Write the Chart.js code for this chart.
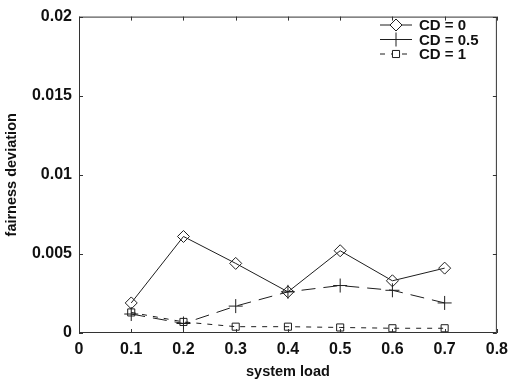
<!DOCTYPE html>
<html>
<head>
<meta charset="utf-8">
<script src="https://cdn.jsdelivr.net/npm/chart.js@4"></script>
<style>
  html, body { margin: 0; padding: 0; background: #fff; }
  #wrap { width: 515px; height: 381px; }
</style>
</head>
<body>
<div id="wrap"><canvas id="myChart" width="515" height="381"></canvas></div>
<script>
// system load on x, fairness deviation on y
var loads = [0.1, 0.2, 0.3, 0.4, 0.5, 0.6, 0.7];
var cd0 = [0.0019, 0.0061, 0.0044, 0.0026, 0.0052, 0.0033, 0.0041];
var cd05 = [0.0012, 0.0006, 0.0017, 0.0026, 0.0030, 0.0027, 0.0019];
var cd1 = [0.0013, 0.0007, 0.0004, 0.0004, 0.00035, 0.0003, 0.0003];
var seriesNames = ["CD = 0", "CD = 0.5", "CD = 1"];

var FONT = "'Liberation Sans', Arial, Helvetica, sans-serif";
var INK = '#1e1e1e';

function pts(ys) {
    return loads.map(function (x, i) { return { x: x, y: ys[i] }; });
}

// box + inward ticks (matlab style) and a legend with line samples
var frame = {
    id: 'frame',
    afterDraw: function (chart) {
        var ctx = chart.ctx, a = chart.chartArea;
        var xs = chart.scales.x, ys = chart.scales.y;
        ctx.save();
        ctx.strokeStyle = '#333';
        ctx.lineWidth = 1;
        ctx.setLineDash([]);
        ctx.strokeRect(a.left + 0.5, a.top + 0.5, a.right - a.left - 1, a.bottom - a.top - 1);
        ctx.beginPath();
        xs.ticks.forEach(function (t) {
            var px = Math.round(xs.getPixelForValue(t.value)) + 0.5;
            ctx.moveTo(px, a.bottom); ctx.lineTo(px, a.bottom - 4);
            ctx.moveTo(px, a.top); ctx.lineTo(px, a.top + 4);
        });
        ys.ticks.forEach(function (t) {
            var py = Math.round(ys.getPixelForValue(t.value)) + 0.5;
            ctx.moveTo(a.left, py); ctx.lineTo(a.left + 4, py);
            ctx.moveTo(a.right, py); ctx.lineTo(a.right - 4, py);
        });
        ctx.stroke();

        // legend
        var lx0 = 380, lx1 = 412, tx = 419, y0 = 25, dy = 14.5;
        chart.data.datasets.forEach(function (ds, i) {
            var y = y0 + i * dy;
            ctx.strokeStyle = INK;
            ctx.lineWidth = 1;
            ctx.setLineDash(ds.borderDash || []);
            ctx.beginPath();
            ctx.moveTo(lx0, y); ctx.lineTo(lx1, y);
            ctx.stroke();
            ctx.setLineDash([]);
            ctx.fillStyle = '#fff';
            Chart.helpers.drawPoint(ctx, {
                pointStyle: ds.pointStyle, radius: ds.pointRadius,
                borderWidth: 1, rotation: 0
            }, (lx0 + lx1) / 2, y);
            ctx.fillStyle = '#111';
            ctx.font = 'bold 15px ' + FONT;
            ctx.textBaseline = 'middle';
            ctx.textAlign = 'left';
            ctx.fillText(seriesNames[i], tx, y + 1);
        });
        ctx.restore();
    }
};

var ctx = document.getElementById('myChart');
var chart = new Chart(ctx, {
    type: 'line',
    data: {
        datasets: [{
            label: seriesNames[0],
            data: pts(cd0),
            borderColor: INK,
            backgroundColor: 'rgba(255,255,255,0)',
            borderWidth: 1,
            pointStyle: 'rectRot',
            pointRadius: 6,
            pointBorderColor: INK,
            pointBackgroundColor: 'rgba(255,255,255,0)',
            pointBorderWidth: 1
        }, {
            label: seriesNames[1],
            data: pts(cd05),
            borderColor: INK,
            borderWidth: 1,
            borderDash: [14, 8],
            pointStyle: 'cross',
            pointRadius: 7,
            pointBorderColor: INK,
            pointBorderWidth: 1
        }, {
            label: seriesNames[2],
            data: pts(cd1),
            borderColor: INK,
            borderWidth: 1,
            borderDash: [5, 6],
            pointStyle: 'rect',
            pointRadius: 5,
            pointBorderColor: INK,
            pointBackgroundColor: 'rgba(255,255,255,0)',
            pointBorderWidth: 1
        }]
    },
    options: {
        responsive: false,
        animation: false,
        events: [],
        layout: { padding: { top: 14, right: 13, left: 0, bottom: 0 } },
        plugins: { legend: { display: false }, tooltip: { enabled: false } },
        scales: {
            x: {
                type: 'linear', min: 0, max: 0.8,
                afterFit: function (s) { s.height = 48; },
                grid: { display: false, drawTicks: false },
                border: { display: false },
                ticks: {
                    stepSize: 0.1, padding: 7, color: '#111',
                    font: { family: FONT, size: 16, weight: 'bold' },
                    callback: function (v) { return String(+v.toFixed(3)); }
                },
                title: {
                    display: true, text: 'system load', color: '#111',
                    font: { family: FONT, size: 14.5, weight: 'bold' },
                    padding: { top: 0, bottom: 0 }
                }
            },
            y: {
                type: 'linear', min: 0, max: 0.02,
                afterFit: function (s) { s.width = 79; },
                grid: { display: false, drawTicks: false },
                border: { display: false },
                ticks: {
                    stepSize: 0.005, padding: 7, color: '#111',
                    font: { family: FONT, size: 16, weight: 'bold' },
                    callback: function (v) { return String(+v.toFixed(4)); }
                },
                title: {
                    display: true, text: 'fairness deviation', color: '#111',
                    font: { family: FONT, size: 14.5, weight: 'bold' },
                    padding: { top: 3, bottom: 0 }
                }
            }
        }
    },
    plugins: [frame]
});
</script>
</body>
</html>
